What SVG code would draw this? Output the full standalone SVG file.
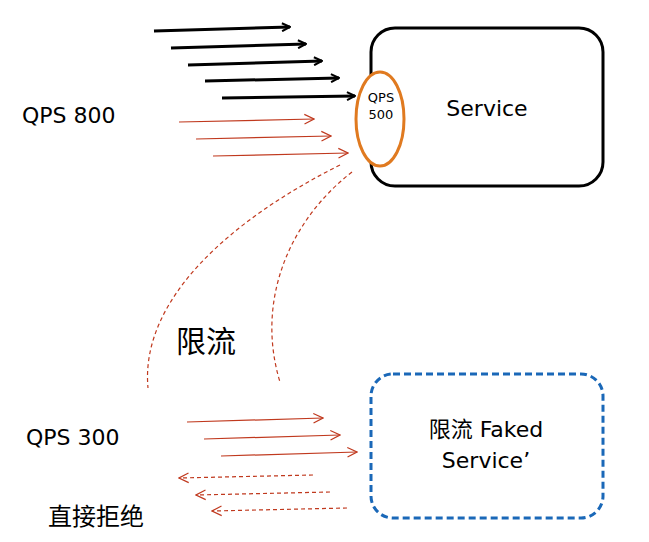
<svg xmlns="http://www.w3.org/2000/svg" width="649" height="542" viewBox="0 0 649 542">
<defs>
<marker id="bk" viewBox="0 0 10 10" refX="9" refY="5" markerWidth="10" markerHeight="10" markerUnits="userSpaceOnUse" orient="auto"><path d="M1,1 L9,5 L1,9" fill="none" stroke="#000" stroke-width="2"/></marker>
<marker id="rd" viewBox="0 0 10 10" refX="9" refY="5" markerWidth="12" markerHeight="12" markerUnits="userSpaceOnUse" orient="auto"><path d="M1,1 L9,5 L1,9" fill="none" stroke="#c0391e" stroke-width="1"/></marker>
</defs>
<style>
.t{font-family:"DejaVu Sans","Noto Sans CJK SC",sans-serif;fill:#000}
.b{stroke:#000;stroke-width:3;marker-end:url(#bk)}
.r{stroke:#c0391e;stroke-width:1.2;marker-end:url(#rd)}
.rd{stroke:#c0391e;stroke-width:1.2;stroke-dasharray:4 3;marker-end:url(#rd)}
.c{fill:none;stroke:#c0391e;stroke-width:1.2;stroke-dasharray:4 3}
</style>
<rect width="649" height="542" fill="#fff"/>
<g id="service"><rect x="371" y="28" width="232" height="158" rx="24" fill="#fff" stroke="#000" stroke-width="3"/><text class="t" x="487" y="116" font-size="22" text-anchor="middle">Service</text></g>
<g id="faked"><rect x="371" y="374" width="232" height="144" rx="22" fill="#fff" stroke="#1a68b8" stroke-width="3" stroke-dasharray="7 4"/><text class="t" x="486" y="437" font-size="22" text-anchor="middle">限流 Faked</text><text class="t" x="486" y="468" font-size="22" text-anchor="middle">Service’</text></g>
<g id="limiter"><ellipse cx="380" cy="119" rx="24" ry="47" fill="#fff" stroke="#e07a20" stroke-width="3"/><text class="t" x="381" y="102" font-size="13" text-anchor="middle">QPS</text><text class="t" x="381" y="119" font-size="13" text-anchor="middle">500</text></g>
<g id="labels">
<text class="t" x="22" y="123" font-size="22">QPS 800</text>
<text class="t" x="26" y="445" font-size="22">QPS 300</text>
<text class="t" x="48" y="525" font-size="24">直接拒绝</text>
<text class="t" x="176" y="352" font-size="30">限流</text>
</g>
<g id="connectors">
<line class="b" x1="154" y1="31" x2="290" y2="27"/>
<line class="b" x1="171" y1="48" x2="306" y2="44"/>
<line class="b" x1="188" y1="65" x2="322" y2="61"/>
<line class="b" x1="205" y1="81" x2="339" y2="78"/>
<line class="b" x1="222" y1="98" x2="355" y2="96"/>
<line class="r" x1="179" y1="122" x2="314" y2="119"/>
<line class="r" x1="196" y1="139" x2="331" y2="136"/>
<line class="r" x1="213" y1="156" x2="348" y2="153"/>
<path class="c" d="M340,165 C230,220 140,300 148,388"/>
<path class="c" d="M352,172 C290,220 255,300 280,382"/>
<line class="r" x1="187" y1="422" x2="323" y2="418"/>
<line class="r" x1="204" y1="439" x2="340" y2="435"/>
<line class="r" x1="221" y1="456" x2="357" y2="452"/>
<line class="rd" x1="313" y1="475" x2="179" y2="478"/>
<line class="rd" x1="330" y1="492" x2="196" y2="495"/>
<line class="rd" x1="347" y1="508" x2="212" y2="511"/>
</g>
</svg>
